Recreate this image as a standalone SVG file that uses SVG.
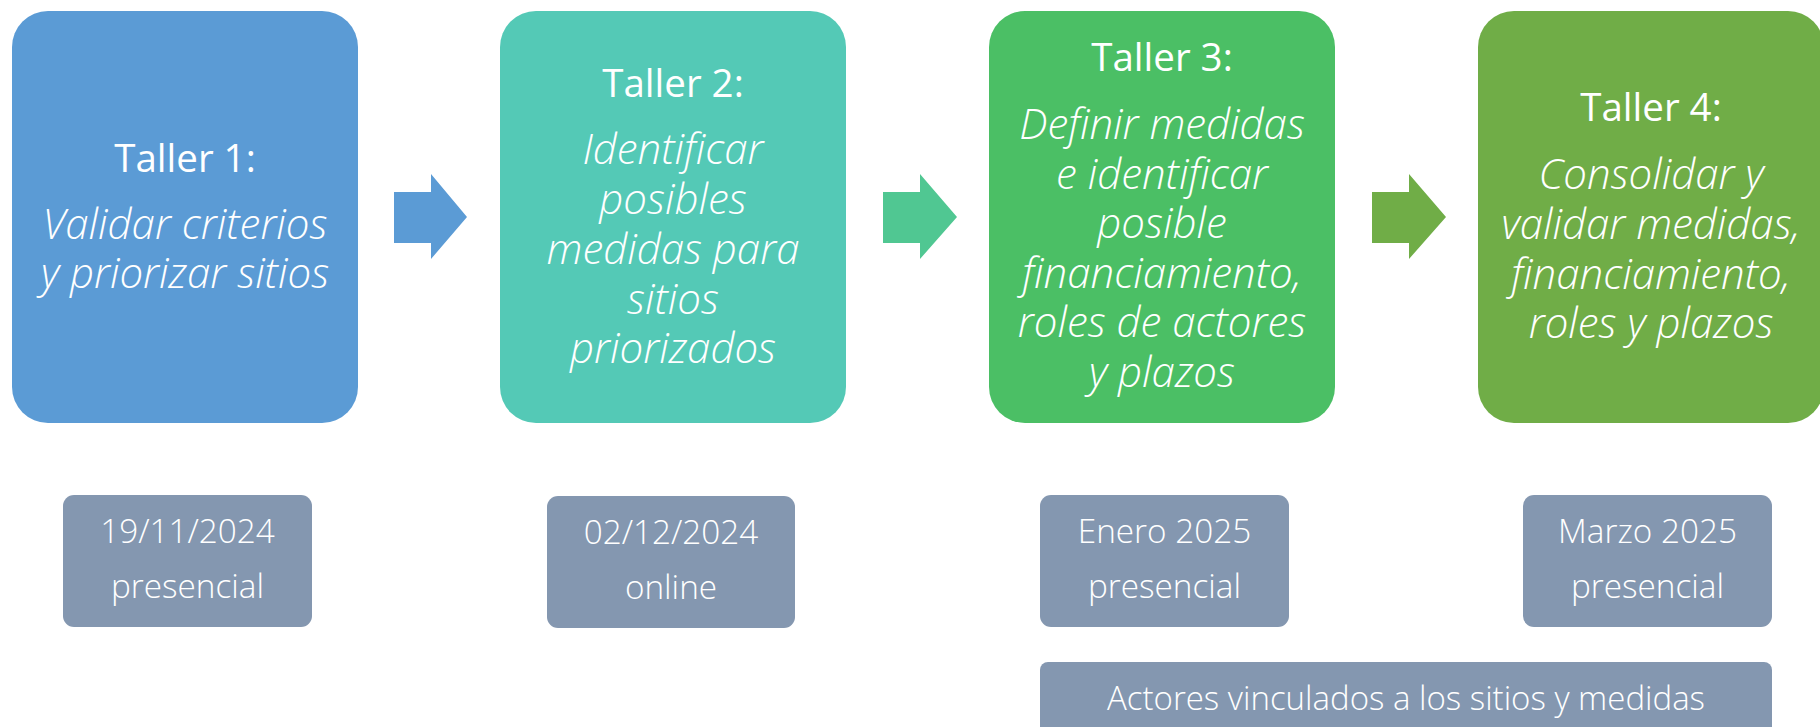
<svg xmlns="http://www.w3.org/2000/svg" width="1820" height="727" viewBox="0 0 1820 727">
<style>
.t{font-family:"Open Sans","Liberation Sans",sans-serif;fill:#fff;text-anchor:middle}
.title{font-size:38.5px;font-weight:400}
.it{font-size:42px;font-style:italic;font-weight:300}
.d{font-size:33.3px;font-weight:300}
.date{fill:#8497B0}
</style>
<g id="connectors">
<polygon fill="#5B9BD5" points="394,192 431,192 431,174 467,217 431,259 431,243 394,243"/>
<polygon fill="#50C792" points="883,192 920,192 920,174 957,217 920,259 920,243 883,243"/>
<polygon fill="#70AD47" points="1372,192 1409,192 1409,174 1446,217 1409,259 1409,243 1372,243"/>
</g>
<g id="taller1">
<rect x="12" y="11" width="346" height="412" rx="36" fill="#5B9BD5"/>
<text class="t title" x="185" y="172">Taller 1:</text>
<text class="t it" x="185" y="239">Validar criterios</text>
<text class="t it" x="185" y="288">y priorizar sitios</text>
</g>
<g id="taller2">
<rect x="500" y="11" width="346" height="412" rx="36" fill="#54C9B6"/>
<text class="t title" x="673" y="97">Taller 2:</text>
<text class="t it" x="673" y="164">Identificar</text>
<text class="t it" x="673" y="213.5">posibles</text>
<text class="t it" x="673" y="263.5">medidas para</text>
<text class="t it" x="673" y="313.5">sitios</text>
<text class="t it" x="673" y="363">priorizados</text>
</g>
<g id="taller3">
<rect x="989" y="11" width="346" height="412" rx="36" fill="#4BBF65"/>
<text class="t title" x="1162" y="71">Taller 3:</text>
<text class="t it" x="1162" y="139">Definir medidas</text>
<text class="t it" x="1162" y="188.5">e identificar</text>
<text class="t it" x="1162" y="238">posible</text>
<text class="t it" x="1162" y="287.5">financiamiento,</text>
<text class="t it" x="1162" y="337">roles de actores</text>
<text class="t it" x="1162" y="386.5">y plazos</text>
</g>
<g id="taller4">
<rect x="1478" y="11" width="346" height="412" rx="36" fill="#70AD47"/>
<text class="t title" x="1651" y="121">Taller 4:</text>
<text class="t it" x="1651" y="189">Consolidar y</text>
<text class="t it" x="1651" y="239">validar medidas,</text>
<text class="t it" x="1651" y="289">financiamiento,</text>
<text class="t it" x="1651" y="338">roles y plazos</text>
</g>
<g id="fecha1">
<rect class="date" x="63" y="495" width="249" height="132" rx="11"/>
<text class="t d" x="187.5" y="543">19/11/2024</text>
<text class="t d" x="187.5" y="598">presencial</text>
</g>
<g id="fecha2">
<rect class="date" x="547" y="496" width="248" height="132" rx="11"/>
<text class="t d" x="671" y="544">02/12/2024</text>
<text class="t d" x="671" y="599">online</text>
</g>
<g id="fecha3">
<rect class="date" x="1040" y="495" width="249" height="132" rx="11"/>
<text class="t d" x="1164.5" y="543">Enero 2025</text>
<text class="t d" x="1164.5" y="598">presencial</text>
</g>
<g id="fecha4">
<rect class="date" x="1523" y="495" width="249" height="132" rx="11"/>
<text class="t d" x="1647.5" y="543">Marzo 2025</text>
<text class="t d" x="1647.5" y="598">presencial</text>
</g>
<g id="actores">
<rect class="date" x="1040" y="662" width="732" height="90" rx="8"/>
<text class="t d" x="1406" y="710" style="font-size:33px">Actores vinculados a los sitios y medidas</text>
</g>
</svg>
